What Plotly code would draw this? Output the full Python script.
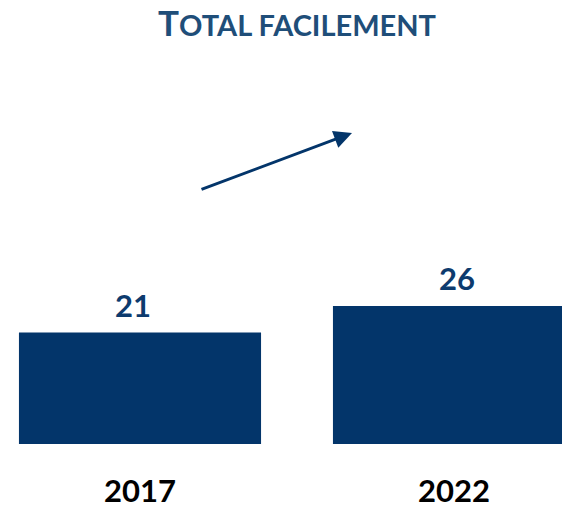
import plotly.graph_objects as go

categories = ["2017", "2022"]
values = [21, 26]
title_text = "TOTAL FACILEMENT"

BAR = "#03356A"
TITLE = "#1F4E79"
VAL = "#0D3B6E"
FONT = "Lato"

xpos = list(range(len(categories)))

fig = go.Figure()
fig.add_trace(go.Bar(x=xpos, y=values, width=0.771, marker=dict(color=BAR, line=dict(width=0)),
                     hoverinfo="skip"))

# value labels
for xi, v, dx in zip(xpos, values, [-7, 3]):
    fig.add_annotation(x=xi, y=v, xref="x", yref="y", text=f"<b>{v}</b>", showarrow=False,
                       yanchor="middle", yshift=28, xshift=dx,
                       font=dict(family=FONT, size=31, color=VAL))
# category labels
for xi, c in zip(xpos, categories):
    fig.add_annotation(x=xi, y=-8.6, xref="x", yref="y", text=f"<b>{c}</b>", showarrow=False,
                       yanchor="middle", font=dict(family=FONT, size=31, color="#000000"))

# title (small caps style)
fig.add_annotation(x=297 / 562, y=1 - 22 / 508, xref="paper", yref="paper",
                   text="<b><span style='font-size:35px'>" + title_text[0] + "</span>" + title_text[1:] + "</b>",
                   showarrow=False, xanchor="center", yanchor="middle",
                   font=dict(family=FONT, size=29, color=TITLE))

# trend arrow
fig.add_annotation(x=352 / 562, y=1 - 133 / 508, xref="paper", yref="paper",
                   ax=-152, ay=57, axref="pixel", ayref="pixel", text="",
                   showarrow=True, arrowhead=2, arrowsize=1.2, arrowwidth=3, arrowcolor=BAR)

ppu = 138 / 26
fig.update_layout(
    width=562, height=508, margin=dict(l=0, r=0, t=0, b=0),
    paper_bgcolor="white", plot_bgcolor="white", showlegend=False,
    xaxis=dict(range=[-140 / 314, 422 / 314], visible=False, fixedrange=True),
    yaxis=dict(range=[-64 / ppu, 444 / ppu], visible=False, fixedrange=True),
)
fig.write_html("out.html", config={"displayModeBar": False, "staticPlot": True},
               post_script="document.body.style.margin='0';document.body.style.overflow='hidden';")
